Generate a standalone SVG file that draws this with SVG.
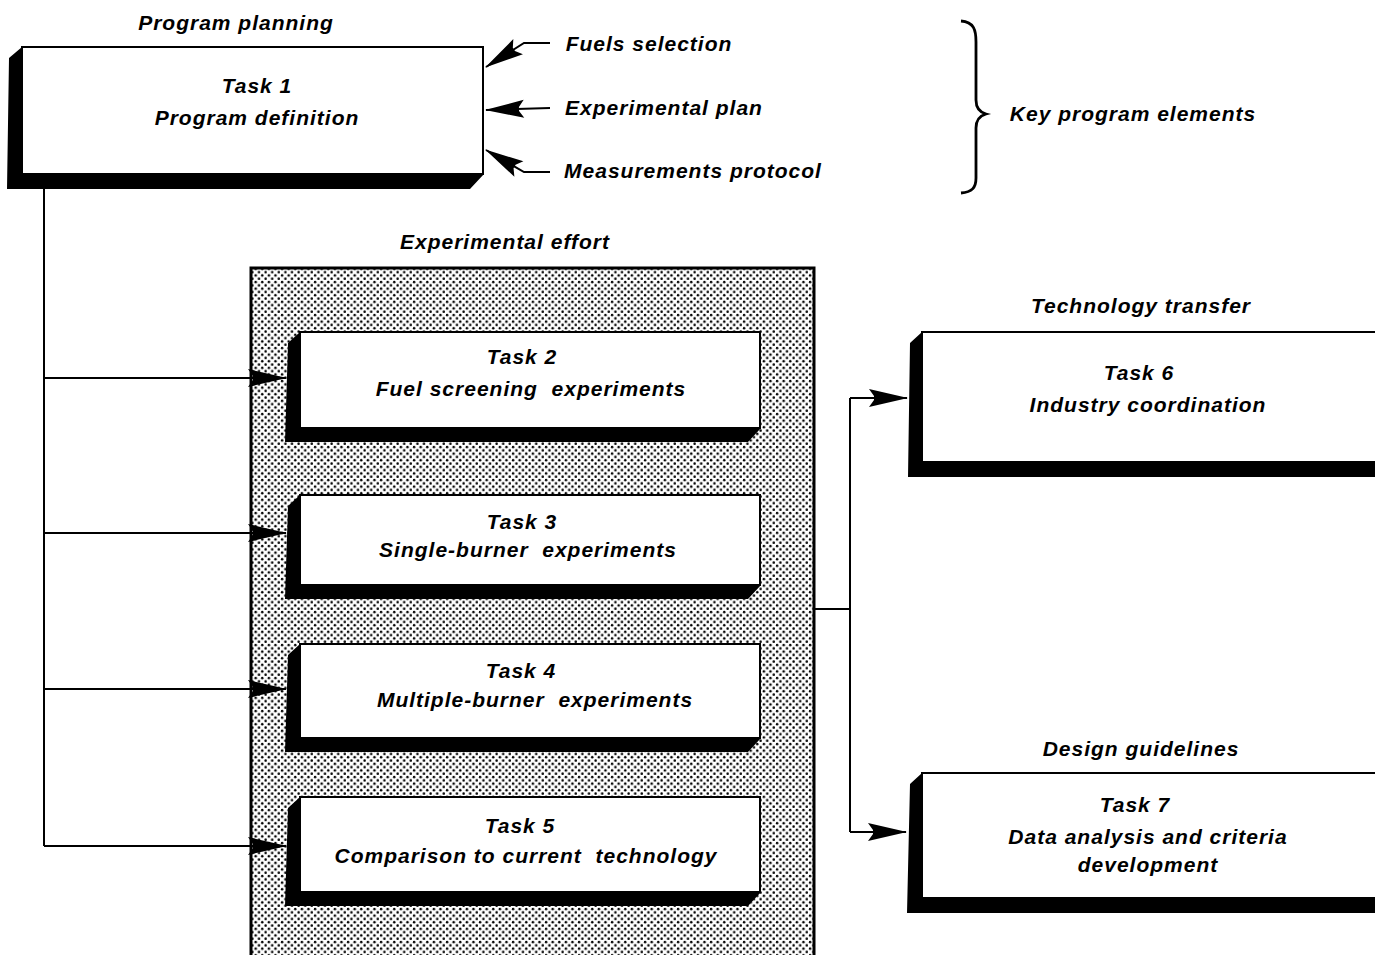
<svg xmlns="http://www.w3.org/2000/svg" width="1375" height="955" viewBox="0 0 1375 955">
<style>
text{font-family:"Liberation Sans",Arial,sans-serif;font-style:italic;font-weight:bold;font-size:21px;letter-spacing:1px;fill:#000;white-space:pre}
.c{text-anchor:middle}
.box{fill:#fff;stroke:#000;stroke-width:2}
.sh{fill:#000}
.ln{fill:none;stroke:#000;stroke-width:2}
</style>
<defs>
<pattern id="dots" width="6.6" height="6.6" patternUnits="userSpaceOnUse">
<rect width="6.6" height="6.6" fill="#fff"/>
<circle cx="1.6" cy="1.6" r="1.25" fill="#000"/>
<circle cx="4.9" cy="4.9" r="1.25" fill="#000"/>
</pattern>
<marker id="ah" viewBox="-42 -11 44 22" refX="0" refY="0" markerWidth="44" markerHeight="22" markerUnits="userSpaceOnUse" orient="auto">
<path d="M1,0 L-38,-9 L-33,-2 L-33,2 L-38,9 Z" fill="#000"/>
</marker>
</defs>

<g id="labels">
<text x="236" y="30" class="c">Program planning</text>
<text x="649" y="51" class="c">Fuels selection</text>
<text x="664" y="115" class="c">Experimental plan</text>
<text x="693" y="178" class="c">Measurements protocol</text>
<text x="1133" y="121" class="c">Key program elements</text>
<text x="505" y="249" class="c">Experimental effort</text>
<text x="1141" y="313" class="c">Technology transfer</text>
<text x="1141" y="756" class="c">Design guidelines</text>
<path d="M961,21 C974,22 976,30 976,42 L976,100 C976,108 979,112 986,114 C979,116 976,120 976,128 L976,178 C976,188 972,192 961,193" fill="none" stroke="#000" stroke-width="2.8"/>
</g>

<g id="effort">
<rect x="251" y="268" width="563" height="700" fill="url(#dots)" stroke="#000" stroke-width="3"/>
</g>

<g id="task1">
<polygon class="sh" points="22,47 9,58 7,189 470,189 484,174 22,174"/>
<rect class="box" x="22" y="47" width="461" height="127"/>
<text x="257" y="93" class="c">Task 1</text>
<text x="257" y="125" class="c">Program definition</text>
</g>

<g id="task2">
<polygon class="sh" points="300,332 288,343 285,442 748,442 761,428 300,428"/>
<rect class="box" x="300" y="332" width="460" height="96"/>
<text x="522" y="364" class="c">Task 2</text>
<text x="531" y="396" class="c">Fuel screening  experiments</text>
</g>

<g id="task3">
<polygon class="sh" points="300,495 288,506 285,599 748,599 761,585 300,585"/>
<rect class="box" x="300" y="495" width="460" height="90"/>
<text x="522" y="529" class="c">Task 3</text>
<text x="528" y="557" class="c">Single-burner  experiments</text>
</g>

<g id="task4">
<polygon class="sh" points="300,644 288,655 285,752 748,752 761,738 300,738"/>
<rect class="box" x="300" y="644" width="460" height="94"/>
<text x="521" y="678" class="c">Task 4</text>
<text x="535" y="707" class="c">Multiple-burner  experiments</text>
</g>

<g id="task5">
<polygon class="sh" points="300,797 288,808 285,906 748,906 761,892 300,892"/>
<rect class="box" x="300" y="797" width="460" height="95"/>
<text x="520" y="833" class="c">Task 5</text>
<text x="526" y="863" class="c">Comparison to current  technology</text>
</g>

<g id="task6">
<polygon class="sh" points="922,332 910,343 908,477 1375,477 1375,462 922,462"/>
<rect class="box" x="922" y="332" width="470" height="130"/>
<text x="1139" y="380" class="c">Task 6</text>
<text x="1148" y="412" class="c">Industry coordination</text>
</g>

<g id="task7">
<polygon class="sh" points="922,773 910,784 907,913 1375,913 1375,898 922,898"/>
<rect class="box" x="922" y="773" width="470" height="125"/>
<text x="1135" y="812" class="c">Task 7</text>
<text x="1148" y="844" class="c">Data analysis and criteria</text>
<text x="1148" y="872" class="c">development</text>
</g>

<g id="connectors">
<path class="ln" d="M550,43 L524,43 L486,67" marker-end="url(#ah)"/>
<path class="ln" d="M550,108 L486,110" marker-end="url(#ah)"/>
<path class="ln" d="M550,172 L524,172 L486,150" marker-end="url(#ah)"/>
<path class="ln" d="M44,189 L44,846"/>
<path class="ln" d="M44,378 L286,378" marker-end="url(#ah)"/>
<path class="ln" d="M44,533 L286,533" marker-end="url(#ah)"/>
<path class="ln" d="M44,689 L286,689" marker-end="url(#ah)"/>
<path class="ln" d="M44,846 L286,846" marker-end="url(#ah)"/>
<path class="ln" d="M814,609 L850,609"/>
<path class="ln" d="M850,398 L850,832"/>
<path class="ln" d="M850,398 L907,398" marker-end="url(#ah)"/>
<path class="ln" d="M850,832 L906,832" marker-end="url(#ah)"/>
</g>
</svg>
